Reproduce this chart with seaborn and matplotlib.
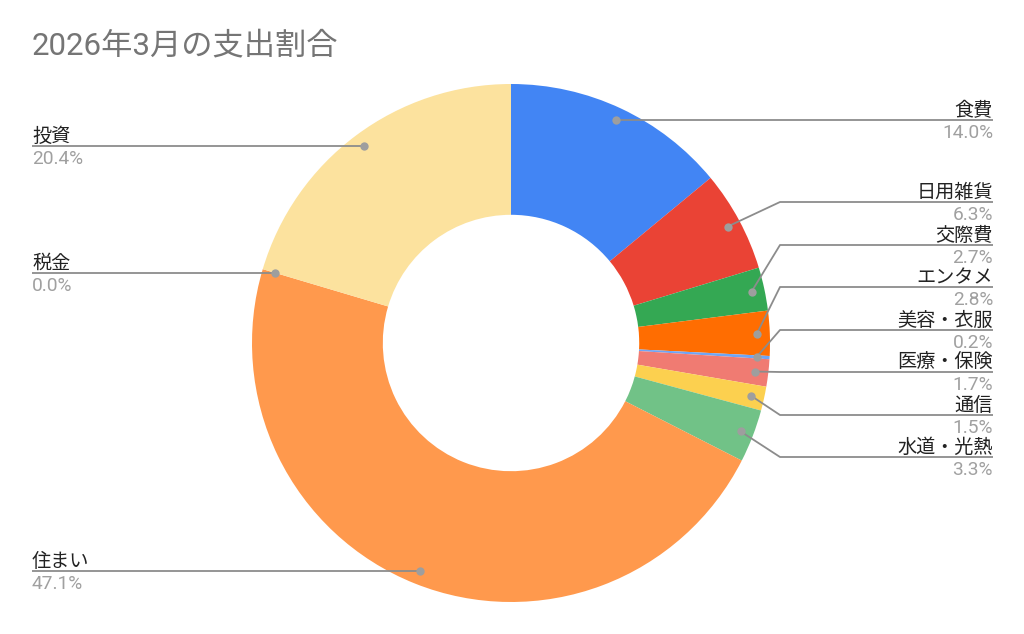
import numpy as np
import matplotlib
matplotlib.use("Agg")
import matplotlib.pyplot as plt
import seaborn as sns

# data (clockwise from the top)
categories = ['食費', '日用雑貨', '交際費', 'エンタメ', '美容・衣服', '医療・保険',
              '通信', '水道・光熱', '住まい', '税金', '投資']
shares = [14.0, 6.3, 2.7, 2.8, 0.2, 1.7, 1.5, 3.3, 47.1, 0.0, 20.4]
colors = ['#4285F4', '#EA4335', '#34A853', '#FF6D01', '#6FA5F5', '#F07B72',
          '#FCD04F', '#71C287', '#FF994D', '#A9A9A9', '#FCE29E']
title = '2026年3月の支出割合'

# layout (pixels)
W, H = 1024, 634
CX, CY, R = 511, 343, 259
right_label_y = {'日用雑貨': 202, '交際費': 245, 'エンタメ': 287, '美容・衣服': 330,
                 '医療・保険': 372, '通信': 415, '水道・光熱': 457}

sns.set_theme(style='white')
plt.rcParams['font.family'] = ['Roboto', 'Noto Sans CJK JP', 'DejaVu Sans']

fig = plt.figure(figsize=(W / 100, H / 100), dpi=100)
ax = fig.add_axes([0, 0, 1, 1])

# y axis is inverted, so counterclock in data space is clockwise on screen
wedges, _ = ax.pie(shares, colors=colors, startangle=-90, counterclock=True,
                   center=(CX, CY), radius=R, frame=True,
                   wedgeprops=dict(width=R * 0.505, linewidth=0))

ax.set_xlim(0, W)
ax.set_ylim(H, 0)
ax.set_aspect('equal')
ax.axis('off')

line_col = '#8c8c8c'
dot_col = '#9e9e9e'
name_col = '#222222'
pct_col = '#a0a0a0'
fs = 13.8

total = sum(shares)
cum = np.cumsum([0] + shares[:-1])
for name, s, c0 in zip(categories, shares, cum):
    mid = (c0 + s / 2) / total * 2 * np.pi
    dx = CX + 0.95 * R * np.sin(mid)
    dy = CY - 0.95 * R * np.cos(mid)
    if dx >= CX:
        ly = right_label_y.get(name, dy)
        xs = [dx, 780, 993]
        ys = [dy, ly, ly]
        tx, ha = 993, 'right'
    else:
        ly = dy
        xs = [dx, 32]
        ys = [dy, ly]
        tx, ha = 32, 'left'
    ax.plot(xs, ys, color=line_col, lw=1.3, solid_capstyle='butt', zorder=3)
    ax.plot(dx, dy, 'o', ms=6, color=dot_col, mec='none', zorder=4)
    ax.text(tx, ly - 4, name, ha=ha, va='baseline', fontsize=fs, color=name_col)
    ax.text(tx, ly + 4, f'{s:.1f}%', ha=ha, va='top', fontsize=fs, color=pct_col)

ax.text(32, 46, title, ha='left', va='center', fontsize=22.5, color='#757575')

fig.savefig('out.png', dpi=100)
